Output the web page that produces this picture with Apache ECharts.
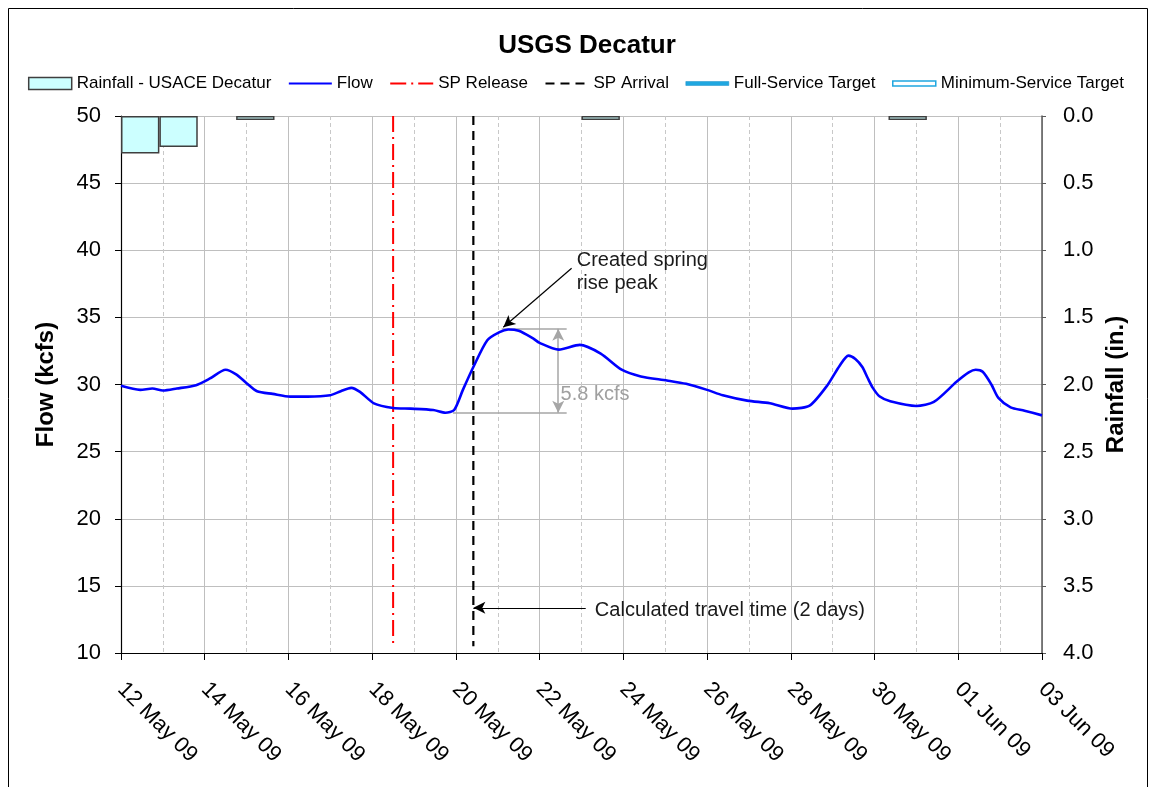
<!DOCTYPE html>
<html>
<head>
<meta charset="utf-8">
<title>USGS Decatur</title>
<script src="https://cdn.jsdelivr.net/npm/echarts@6/dist/echarts.min.js"></script>
<style>
  html, body { margin: 0; padding: 0; background: #fff; }
  #chart { width: 1152px; height: 787px; }
</style>
</head>
<body>
<div id="chart"></div>
<script>
// Flow (kcfs), times in UTC 'YYYY-MM-DD HH:mm'
const flowTimes = [
  '2009-05-12 00:00', '2009-05-12 11:00', '2009-05-12 18:00', '2009-05-13 00:00', '2009-05-13 08:00',
  '2009-05-13 19:00', '2009-05-14 03:00', '2009-05-14 12:00', '2009-05-14 18:00', '2009-05-15 00:00',
  '2009-05-15 06:00', '2009-05-15 15:00', '2009-05-16 01:00', '2009-05-16 11:00', '2009-05-17 00:00',
  '2009-05-17 06:00', '2009-05-17 12:00', '2009-05-17 17:00', '2009-05-18 01:00', '2009-05-18 12:00',
  '2009-05-18 22:00', '2009-05-19 11:00', '2009-05-19 18:00', '2009-05-19 23:00', '2009-05-20 04:00',
  '2009-05-20 10:00', '2009-05-20 18:00', '2009-05-21 01:00', '2009-05-21 06:00', '2009-05-21 12:00',
  '2009-05-21 20:00', '2009-05-22 00:00', '2009-05-22 11:00', '2009-05-22 23:00', '2009-05-23 11:00',
  '2009-05-23 23:00', '2009-05-24 10:00', '2009-05-25 01:00', '2009-05-25 12:00', '2009-05-26 00:00',
  '2009-05-26 09:00', '2009-05-26 23:00', '2009-05-27 12:00', '2009-05-28 01:00', '2009-05-28 11:00',
  '2009-05-28 21:00', '2009-05-29 04:00', '2009-05-29 09:00', '2009-05-29 13:00', '2009-05-29 17:00',
  '2009-05-29 20:00', '2009-05-29 23:00', '2009-05-30 03:00', '2009-05-30 09:00', '2009-05-31 00:00',
  '2009-05-31 10:00', '2009-05-31 23:00', '2009-06-01 06:00', '2009-06-01 10:00', '2009-06-01 14:00',
  '2009-06-01 19:00', '2009-06-01 23:00', '2009-06-02 06:00', '2009-06-02 14:00', '2009-06-03 00:00'
];
const flowValues = [
  29.9, 29.6, 29.7, 29.55, 29.7,
  29.95, 30.45, 31.1, 30.75, 30.1,
  29.5, 29.3, 29.1, 29.1, 29.2,
  29.5, 29.75, 29.45, 28.6, 28.25,
  28.2, 28.1, 27.9, 28.1, 29.6,
  31.3, 33.3, 33.9, 34.1, 34.0,
  33.45, 33.1, 32.6, 32.95, 32.3,
  31.1, 30.6, 30.3, 30.05, 29.6,
  29.2, 28.8, 28.6, 28.2, 28.45,
  29.95, 31.4, 32.15, 31.9, 31.3,
  30.5, 29.75, 29.1, 28.75, 28.4,
  28.7, 30.2, 30.9, 31.1, 30.95,
  30.0, 29.0, 28.3, 28.05, 27.7
];

// Rainfall - USACE Decatur (in.), one value per day
const rainDates = [
  '12 May', '13 May', '14 May', '15 May', '16 May', '17 May', '18 May', '19 May',
  '20 May', '21 May', '22 May', '23 May', '24 May', '25 May', '26 May', '27 May',
  '28 May', '29 May', '30 May', '31 May', '01 Jun', '02 Jun', '03 Jun', '04 Jun'
];
const rainValues = [
  0.28, 0.23, 0, 0.03, 0, 0, 0, 0,
  0, 0, 0, 0, 0.03, 0, 0, 0,
  0, 0, 0, 0, 0.03, 0, 0, 0
];

// SP release / arrival markers
const releaseTime = '2009-05-18 12:00';
const arrivalTime = '2009-05-20 10:00';
const markerSpan = [50, 10.5];

// axis ranges and ticks
const xStart = '2009-05-12';
const xEnd = '2009-06-03';
const flowTicks = [10, 50, 5];
const rainTicks = [0, 4, 0.5];

// annotations (time, flow)
const peakArrow = [['2009-05-22 18:20', 38.66], ['2009-05-21 03:10', 34.26]];
const riseTop = [['2009-05-21 02:15', 34.16], ['2009-05-22 15:30', 34.16]];
const riseBottom = [['2009-05-19 22:20', 27.9], ['2009-05-22 15:30', 27.9]];
const riseSpan = [['2009-05-22 10:40', 34.16], ['2009-05-22 10:40', 27.9]];
const travelArrow = [['2009-05-23 02:25', 13.37], [arrivalTime, 13.37]];
const noteTexts = [
  { text: 'Created spring\nrise peak', at: ['2009-05-22 21:15', 38.38], color: '#1a1a1a' },
  { text: '5.8 kcfs', at: ['2009-05-22 12:00', 29.22], color: '#a0a0a0' },
  { text: 'Calculated travel time (2 days)', at: ['2009-05-23 07:40', 13.2], color: '#1a1a1a' }
];

const DAY = 86400000;
const MONTHS = ['Jan', 'Feb', 'Mar', 'Apr', 'May', 'Jun', 'Jul', 'Aug', 'Sep', 'Oct', 'Nov', 'Dec'];

function toMs(s) {
  const m = s.match(/(\d+)-(\d+)-(\d+)(?: (\d+):(\d+))?/);
  return Date.UTC(+m[1], +m[2] - 1, +m[3], +(m[4] || 0), +(m[5] || 0));
}
function fmtDate(v) {
  const d = new Date(v);
  return String(d.getUTCDate()).padStart(2, '0') + ' ' + MONTHS[d.getUTCMonth()] + ' ' +
    String(d.getUTCFullYear()).slice(2);
}
function pair(p, endSymbol, startSymbol) {
  return [
    { coord: [toMs(p[0][0]), p[0][1]], symbol: startSymbol || 'none', symbolSize: [9, 12] },
    { coord: [toMs(p[1][0]), p[1][1]], symbol: endSymbol || 'none', symbolSize: [9, 12] }
  ];
}

const flowData = flowTimes.map((t, i) => [toMs(t), flowValues[i]]);
// 无雨的日子不画柱子
const rainData = rainValues.map(v => (v > 0 ? v : '-'));
const releaseData = markerSpan.map(v => [toMs(releaseTime), v]);
const arrivalData = markerSpan.map(v => [toMs(arrivalTime), v]);

const FONT = "'Liberation Sans', Arial, sans-serif";
const TARGET_BLUE = '#1fa7e0';

let myChart = echarts.init(document.getElementById('chart'), null, { renderer: 'canvas' });

const option = {
  animation: false,
  textStyle: { fontFamily: FONT },
  title: {
    text: 'USGS Decatur',
    left: 582,
    textAlign: 'center',
    top: 28,
    textStyle: { fontSize: 26, fontWeight: 'bold', color: '#000', fontFamily: FONT }
  },
  legend: {
    top: 70,
    left: 'center',
    itemWidth: 43,
    itemHeight: 12,
    itemGap: 16.5,
    itemStyle: { opacity: 0 },
    textStyle: { fontSize: 17, color: '#000', fontFamily: FONT },
    data: [
      { name: 'Rainfall - USACE Decatur', icon: 'rect',
        itemStyle: { color: '#ccffff', borderColor: '#3f3f3f', borderWidth: 1.5, opacity: 1 } },
      { name: 'Flow' },
      { name: 'SP Release' },
      { name: 'SP Arrival' },
      { name: 'Full-Service Target', icon: 'path://M0,0L43,0L43,4L0,4Z',
        itemStyle: { color: TARGET_BLUE, borderColor: '#1b8fc8', borderWidth: 0.5, opacity: 1 } },
      { name: 'Minimum-Service Target', icon: 'path://M0,0L43,0L43,5L0,5Z',
        itemStyle: { color: '#ffffff', borderColor: TARGET_BLUE, borderWidth: 1.5, opacity: 1 } }
    ]
  },
  grid: { left: 121, right: 110, top: 116, bottom: 134 },
  xAxis: [
    {
      type: 'value',
      min: toMs(xStart),
      max: toMs(xEnd),
      interval: 2 * DAY,
      axisLine: { show: true, onZero: false, lineStyle: { color: '#000', width: 1.2 } },
      axisTick: { show: true, length: 7, lineStyle: { color: '#000' } },
      minorTick: { show: false, splitNumber: 2 },
      axisLabel: {
        rotate: -45, fontSize: 22, color: '#000', margin: 33, fontFamily: FONT,
        formatter: v => fmtDate(v)
      },
      splitLine: { show: true, lineStyle: { color: '#bfbfbf', width: 1 } },
      minorSplitLine: { show: true, lineStyle: { color: '#c8c8c8', width: 1, type: [4, 3] } }
    },
    {
      type: 'category',
      data: rainDates,
      boundaryGap: true,
      show: false,
      position: 'top'
    }
  ],
  yAxis: [
    {
      type: 'value',
      min: flowTicks[0], max: flowTicks[1], interval: flowTicks[2],
      name: 'Flow (kcfs)',
      nameLocation: 'middle',
      nameGap: 63,
      nameTextStyle: { fontSize: 24, fontWeight: 'bold', color: '#000', fontFamily: FONT },
      axisLine: { show: true, onZero: false, lineStyle: { color: '#000', width: 1.2 } },
      axisTick: { show: true, length: 6, lineStyle: { color: '#000' } },
      axisLabel: { fontSize: 22, color: '#000', margin: 20, fontFamily: FONT },
      splitLine: { show: true, lineStyle: { color: '#bfbfbf', width: 1 } }
    },
    {
      type: 'value',
      position: 'right',
      inverse: true,
      min: rainTicks[0], max: rainTicks[1], interval: rainTicks[2],
      name: 'Rainfall (in.)',
      nameLocation: 'middle',
      nameGap: 60,
      nameTextStyle: { fontSize: 24, fontWeight: 'bold', color: '#000', fontFamily: FONT },
      axisLine: { show: true, lineStyle: { color: '#595959', width: 1.5 } },
      axisTick: { show: true, length: 4, lineStyle: { color: '#595959' } },
      axisLabel: { fontSize: 22, color: '#000', margin: 21, fontFamily: FONT,
        formatter: v => v.toFixed(1) },
      splitLine: { show: false }
    }
  ],
  series: [
    {
      name: 'Rainfall - USACE Decatur',
      type: 'bar',
      xAxisIndex: 1,
      yAxisIndex: 1,
      data: rainData,
      barCategoryGap: '0%',
      itemStyle: { color: '#ccffff', borderColor: '#3f3f3f', borderWidth: 1.5 },
      z: 3
    },
    {
      name: 'Flow',
      type: 'line',
      data: flowData,
      symbol: 'none',
      smooth: 0.25,
      lineStyle: { color: '#0000ff', width: 2.6 },
      itemStyle: { color: '#0000ff' },
      z: 6
    },
    {
      name: 'SP Release',
      type: 'line',
      data: releaseData,
      symbol: 'none',
      lineStyle: { color: '#ff0000', width: 2, type: [16, 5, 2, 5] },
      itemStyle: { color: '#ff0000' },
      z: 5
    },
    {
      name: 'SP Arrival',
      type: 'line',
      data: arrivalData,
      symbol: 'none',
      lineStyle: { color: '#000', width: 2.2, type: [9, 6] },
      itemStyle: { color: '#000' },
      z: 5
    },
    {
      name: 'Full-Service Target',
      type: 'line',
      data: [],
      symbol: 'none',
      lineStyle: { color: TARGET_BLUE, width: 4 },
      itemStyle: { color: TARGET_BLUE }
    },
    {
      name: 'Minimum-Service Target',
      type: 'line',
      data: [],
      symbol: 'none',
      lineStyle: { color: TARGET_BLUE, width: 4 },
      itemStyle: { color: TARGET_BLUE }
    },
    {
      name: 'notes-black',
      type: 'line',
      data: [],
      markLine: {
        silent: true,
        symbol: ['none', 'none'],
        label: { show: false },
        lineStyle: { color: '#000', width: 1.2, type: 'solid' },
        emphasis: { disabled: true },
        data: [pair(peakArrow, 'arrow'), pair(travelArrow, 'arrow')]
      },
      z: 7
    },
    {
      name: 'notes-gray',
      type: 'line',
      data: [],
      markLine: {
        silent: true,
        symbol: ['none', 'none'],
        label: { show: false },
        lineStyle: { color: '#a6a6a6', width: 1.5, type: 'solid' },
        itemStyle: { color: '#a6a6a6' },
        emphasis: { disabled: true },
        data: [pair(riseTop), pair(riseBottom), pair(riseSpan, 'arrow', 'arrow')]
      },
      z: 4
    }
  ]
};

myChart.setOption(option);

// 注释文字和外框
const graphics = noteTexts.map(n => {
  const p = myChart.convertToPixel({ xAxisIndex: 0, yAxisIndex: 0 }, [toMs(n.at[0]), n.at[1]]);
  return {
    type: 'text',
    x: p[0],
    y: p[1],
    z: 10,
    style: {
      text: n.text,
      fill: n.color,
      font: '20px ' + FONT,
      lineHeight: 23,
      align: 'left',
      verticalAlign: 'middle'
    }
  };
});
graphics.push({
  type: 'rect',
  shape: { x: 8.5, y: 8.5, width: 1139, height: 800 },
  style: { fill: 'none', stroke: '#000', lineWidth: 1 },
  silent: true,
  z: -1
});
myChart.setOption({ graphic: graphics });
</script>
</body>
</html>
